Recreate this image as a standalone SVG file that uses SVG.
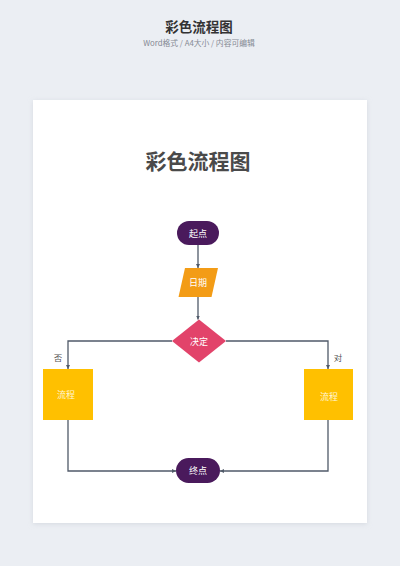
<svg xmlns="http://www.w3.org/2000/svg" width="400" height="566" viewBox="0 0 400 566">
<style>
.lbl{font-family:"Noto Sans CJK SC","Noto Sans",sans-serif;font-size:9px;fill:#ffffff;text-anchor:middle;dominant-baseline:central}
.edge{fill:none;stroke:#505a69;stroke-width:1.3}
.note{font-family:"Noto Sans CJK SC","Noto Sans",sans-serif;font-size:8.5px;fill:#555555;text-anchor:middle;dominant-baseline:central}
</style>
<defs>
<marker id="ah" viewBox="0 0 6 6" refX="6" refY="3" markerWidth="4" markerHeight="4" orient="auto" markerUnits="userSpaceOnUse">
<path d="M0,0 L6,3 L0,6 z" fill="#505a69"/>
</marker>
<filter id="sh" x="-10%" y="-10%" width="120%" height="120%">
<feGaussianBlur stdDeviation="2.5"/>
</filter>
</defs>
<rect x="0" y="0" width="400" height="566" fill="#ebeef3"/>
<text x="199" y="32" font-family="'Noto Sans CJK SC','Noto Sans',sans-serif" font-size="13.5" font-weight="bold" fill="#333333" text-anchor="middle">彩色流程图</text>
<text x="199" y="45.5" font-family="'Noto Sans CJK SC','Noto Sans',sans-serif" font-size="7.8" fill="#858a93" text-anchor="middle">Word格式 / A4大小 / 内容可编辑</text>
<rect x="33" y="101" width="334" height="423" fill="#d5d9e0" filter="url(#sh)"/>
<rect x="33" y="100" width="334" height="423" fill="#ffffff"/>
<text x="198" y="169" font-family="'Noto Sans CJK SC','Noto Sans',sans-serif" font-size="21" font-weight="bold" fill="#4a4a4a" text-anchor="middle">彩色流程图</text>
<g id="connectors">
<line class="edge" x1="198" y1="245" x2="198" y2="268" marker-end="url(#ah)"/>
<line class="edge" x1="198" y1="297" x2="198" y2="319.5" marker-end="url(#ah)"/>
<polyline class="edge" points="172,341 68,341 68,369" marker-end="url(#ah)"/>
<polyline class="edge" points="226,341 328,341 328,369" marker-end="url(#ah)"/>
<polyline class="edge" points="68,420 68,471 176,471" marker-end="url(#ah)"/>
<polyline class="edge" points="328,420 328,471 220,471" marker-end="url(#ah)"/>
<text class="note" x="58" y="357">否</text>
<text class="note" x="338" y="357">对</text>
</g>
<g id="start">
<rect x="177" y="221" width="42" height="24" rx="12" fill="#4a1a5c"/>
<text class="lbl" x="198" y="233">起点</text>
</g>
<g id="date">
<polygon points="185,268 218,268 211.5,297 178.5,297" fill="#f39c16"/>
<text class="lbl" x="198" y="282.5">日期</text>
</g>
<g id="decision">
<polygon points="199,319.5 226,341 199,362.5 172,341" fill="#e2436a"/>
<text class="lbl" x="199" y="341">决定</text>
</g>
<g id="process-left">
<rect x="43" y="369" width="50" height="51" fill="#ffc000"/>
<text class="lbl" x="66" y="394.5" style="fill:#fff6d8">流程</text>
</g>
<g id="process-right">
<rect x="304" y="369" width="49" height="51" fill="#ffc000"/>
<text class="lbl" x="329" y="396" style="fill:#fff6d8">流程</text>
</g>
<g id="end">
<rect x="176" y="458" width="44" height="25" rx="12.5" fill="#4a1a5c"/>
<text class="lbl" x="198" y="470.5">终点</text>
</g>
</svg>
